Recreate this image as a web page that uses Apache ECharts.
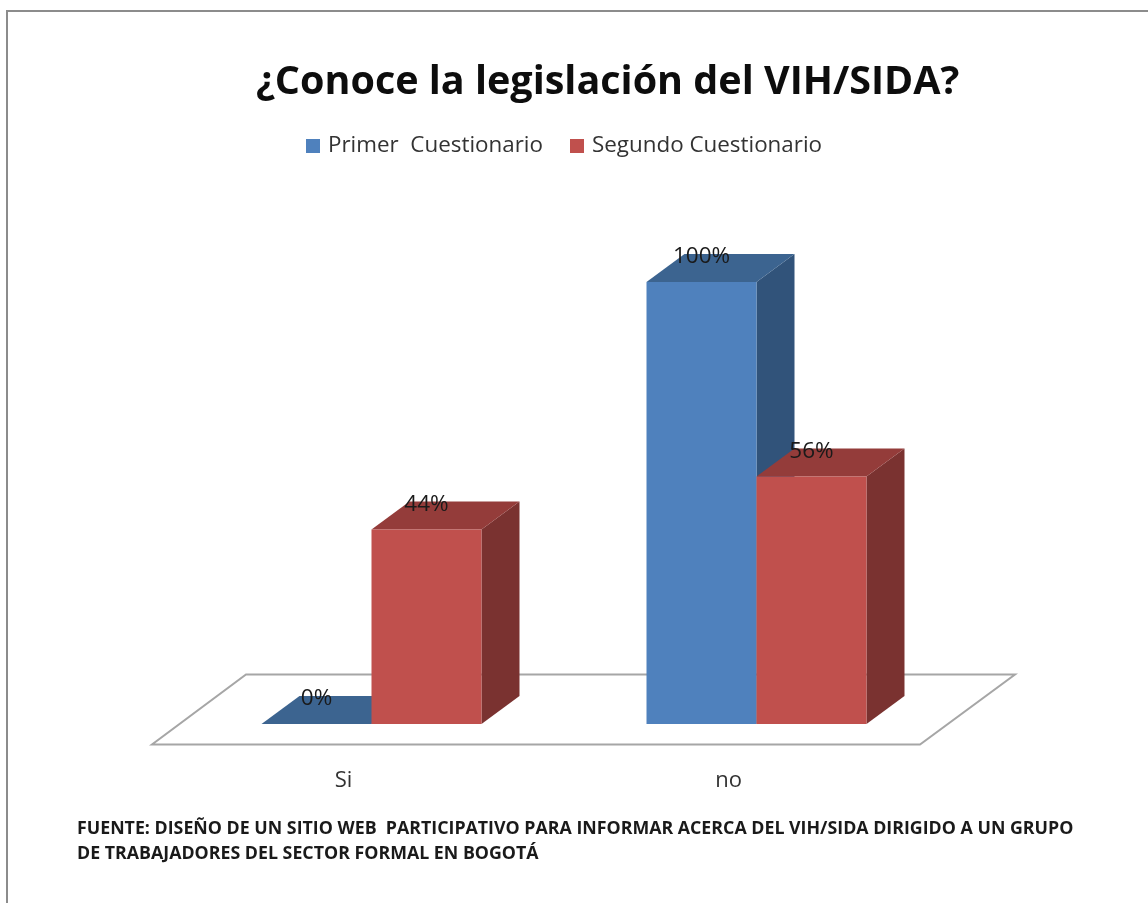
<!DOCTYPE html>
<html>
<head>
<meta charset="utf-8">
<style>html,body{margin:0;padding:0;background:#fff}#c{width:1148px;height:903px}</style>
<script src="https://cdn.jsdelivr.net/npm/echarts@6/dist/echarts.min.js"></script>
</head>
<body>
<div id="c"></div>
<script>
var categories = ['Si', 'no'];
var primerCuestionario = [0, 100];
var segundoCuestionario = [44, 56];
var seriesNames = ['Primer  Cuestionario', 'Segundo Cuestionario'];
var titleText = '¿Conoce la legislación del VIH/SIDA?';
var sourceLines = [
  'FUENTE: DISEÑO DE UN SITIO WEB  PARTICIPATIVO PARA INFORMAR ACERCA DEL VIH/SIDA DIRIGIDO A UN GRUPO',
  'DE TRABAJADORES DEL SECTOR FORMAL EN BOGOTÁ'
];
var FONT = '"Open Sans", sans-serif';

function box3d(side, front, top, right) {
  return function (params, api) {
    var catIdx = api.value(0), val = api.value(1);
    var base = api.coord([catIdx, 0]);
    var head = api.coord([catIdx, val]);
    var w = api.size([1, 0])[0] * 0.2857;
    var x0 = side < 0 ? base[0] - w : base[0];
    var x1 = x0 + w;
    var dx = 38, dy = -28;
    var y0 = base[1], y1 = head[1];
    return {
      type: 'group',
      children: [
        {type: 'polygon', shape: {points: [[x1, y0], [x1 + dx, y0 + dy], [x1 + dx, y1 + dy], [x1, y1]]}, style: {fill: right}},
        {type: 'polygon', shape: {points: [[x0, y1], [x0 + dx, y1 + dy], [x1 + dx, y1 + dy], [x1, y1]]}, style: {fill: top}},
        {type: 'rect', shape: {x: x0, y: y1, width: w, height: y0 - y1}, style: {fill: front}},
        {type: 'text', z2: 50, style: {x: (x0 + x1) / 2, y: y1 - 25, text: val + '%', fill: '#1a1a1a',
          font: '22.5px ' + FONT, align: 'center', verticalAlign: 'middle'}}
      ]
    };
  };
}

var chart = echarts.init(document.getElementById('c'), null, {renderer: 'canvas'});
chart.setOption({
  animation: false,
  backgroundColor: '#ffffff',
  title: [
    {text: titleText, left: 251, top: 58,
     textStyle: {fontFamily: FONT, fontWeight: 'bold', fontSize: 39.5, color: '#0d0d0d'}},
    {text: sourceLines.join('\n'), left: 72, top: 811,
     textStyle: {fontFamily: FONT, fontWeight: 'bold', fontSize: 17.8, lineHeight: 25, color: '#1a1a1a'}}
  ],
  legend: {
    left: 301, top: 130, itemWidth: 14, itemHeight: 14, itemGap: 27,
    icon: 'rect', data: seriesNames,
    textStyle: {fontFamily: FONT, fontSize: 22.4, color: '#333333', padding: [0, 0, 0, 3]}
  },
  grid: {left: 179, right: 199, top: 282, bottom: 179},
  xAxis: {
    type: 'category', data: categories,
    axisLine: {show: false}, axisTick: {show: false}, splitLine: {show: false},
    axisLabel: {margin: 46, fontFamily: FONT, fontSize: 22, color: '#333333', padding: [0, 56, 0, 0]}
  },
  yAxis: {type: 'value', min: 0, max: 100, show: false},
  graphic: [
    {type: 'polyline', shape: {points: [[7, 903], [7, 11], [1148, 11]]}, style: {stroke: '#8c8c8c', lineWidth: 2, fill: null}, z: 0},
    {type: 'polygon', shape: {points: [[152, 744.5], [920, 744.5], [1015, 674.5], [246, 674.5]]},
     style: {fill: '#ffffff', stroke: '#a6a6a6', lineWidth: 2}, z: 0}
  ],
  series: [
    {type: 'custom', name: seriesNames[0], itemStyle: {color: '#4f81bd'}, encode: {x: 0, y: 1},
     data: categories.map(function (c, i) { return [i, primerCuestionario[i]]; }),
     renderItem: box3d(-1, '#4f81bd', '#3c6490', '#31537a')},
    {type: 'custom', name: seriesNames[1], itemStyle: {color: '#c0504d'}, encode: {x: 0, y: 1},
     data: categories.map(function (c, i) { return [i, segundoCuestionario[i]]; }),
     renderItem: box3d(1, '#c0504d', '#943c3a', '#7a3230')}
  ]
});
</script>
</body>
</html>
